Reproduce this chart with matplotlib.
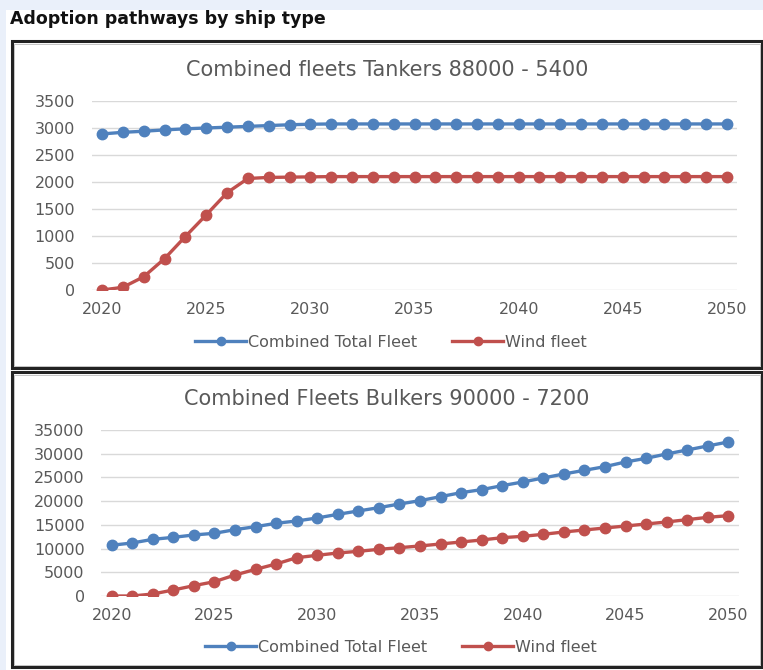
import matplotlib
matplotlib.use("Agg")
import matplotlib.pyplot as plt
from matplotlib.patches import Rectangle
from matplotlib.lines import Line2D

years = list(range(2020, 2051))

tanker_total = [2890, 2920, 2940, 2965, 2985, 3000, 3015, 3030, 3045, 3060, 3070,
                3075, 3075, 3075, 3075, 3075, 3075, 3075, 3075, 3075, 3075,
                3075, 3075, 3075, 3075, 3075, 3075, 3075, 3075, 3075, 3075]
tanker_wind = [0, 50, 245, 580, 990, 1390, 1800, 2065, 2085, 2090, 2095,
               2100, 2100, 2100, 2100, 2100, 2100, 2100, 2100, 2100, 2100,
               2100, 2100, 2100, 2100, 2100, 2100, 2100, 2100, 2100, 2100]

bulker_total = [10700, 11180, 11950, 12370, 12870, 13220, 13990, 14620, 15330, 15820,
                16450, 17220, 17930, 18630, 19400, 20100, 20950, 21790, 22430, 23270,
                24040, 24890, 25730, 26500, 27280, 28260, 29030, 29950, 30790, 31640, 32480]
bulker_wind = [0, 0, 420, 1270, 2180, 3020, 4430, 5620, 6750, 8080,
               8580, 9070, 9420, 9840, 10190, 10550, 10970, 11390, 11810, 12300,
               12580, 13010, 13500, 13920, 14340, 14760, 15180, 15610, 16100, 16590, 16940]

xticks = [2020, 2025, 2030, 2035, 2040, 2045, 2050]
top_yticks = list(range(0, 3501, 500))
bot_yticks = list(range(0, 35001, 5000))

series_names = ["Combined Total Fleet", "Wind fleet"]
blue = "#4F81BD"
red = "#C0504D"
grey_txt = "#595959"

W, H = 763, 670
fig = plt.figure(figsize=(W / 100, H / 100), dpi=100)
fig.patch.set_facecolor("#eaf0fa")

def fx(px):
    return px / W

def fy(py):
    return 1 - py / H

# white page
fig.patches.append(Rectangle((fx(6), 0), 1 - fx(6), fy(10), transform=fig.transFigure,
                             facecolor="white", edgecolor="none", zorder=-3))
# chart boxes (double border)
for (y0, y1) in [(41, 368), (372, 667)]:
    fig.patches.append(Rectangle((fx(11.5), fy(y1)), fx(762) - fx(11.5), fy(y0) - fy(y1),
                                 transform=fig.transFigure, facecolor="white",
                                 edgecolor="#222222", linewidth=2.2, zorder=-2))
    fig.patches.append(Rectangle((fx(14), fy(y1 - 2.5)), fx(759.5) - fx(14), fy(y0 + 2.5) - fy(y1 - 2.5),
                                 transform=fig.transFigure, facecolor="none",
                                 edgecolor="#bbbbbb", linewidth=0.6, zorder=-1))

fig.text(fx(10), fy(19), "Adoption pathways by ship type", fontsize=12.5, fontweight="bold",
         ha="left", va="center", color="#111111")

def make_axes(rect, total, wind, yticks, title, title_y, legend_y, legend_x):
    ax = fig.add_axes(rect)
    ax.set_facecolor("none")
    ax.plot(years, total, color=blue, linewidth=2.4, marker="o", markersize=7.5,
            label=series_names[0], zorder=3)
    ax.plot(years, wind, color=red, linewidth=2.4, marker="o", markersize=7.5,
            label=series_names[1], zorder=3)
    ax.set_xlim(2019.5, 2050.5)
    ax.set_ylim(yticks[0], yticks[-1])
    ax.set_yticks(yticks)
    ax.set_xticks(xticks)
    ax.set_xticklabels([str(x) for x in xticks])
    ax.grid(axis="y", color="#d9d9d9", linewidth=1)
    ax.set_axisbelow(True)
    for s in ax.spines.values():
        s.set_visible(False)
    ax.tick_params(axis="both", length=0, labelsize=11.5, colors=grey_txt)
    ax.tick_params(axis="y", pad=12)
    ax.tick_params(axis="x", pad=9)
    fig.text(0.507, fy(title_y), title, fontsize=15, color=grey_txt, ha="center", va="center")
    handles = [Line2D([], [], color=blue, linewidth=2.4, marker="o", markersize=6),
               Line2D([], [], color=red, linewidth=2.4, marker="o", markersize=6)]
    fig.legend(handles, series_names, loc="center", bbox_to_anchor=(fx(legend_x), fy(legend_y)),
               ncol=2, frameon=False, fontsize=11.5, labelcolor=grey_txt,
               handlelength=3.2, handletextpad=0.1, columnspacing=2.2)
    return ax

make_axes([fx(91.6), fy(290), fx(737.4) - fx(91.6), fy(101) - fy(290)],
          tanker_total, tanker_wind, top_yticks,
          "Combined fleets Tankers 88000 - 5400", 70, 342, 391)
make_axes([fx(101.4), fy(596), fx(738.6) - fx(101.4), fy(430) - fy(596)],
          bulker_total, bulker_wind, bot_yticks,
          "Combined Fleets Bulkers 90000 - 7200", 399, 647, 401)

fig.savefig("out.png", dpi=100)
